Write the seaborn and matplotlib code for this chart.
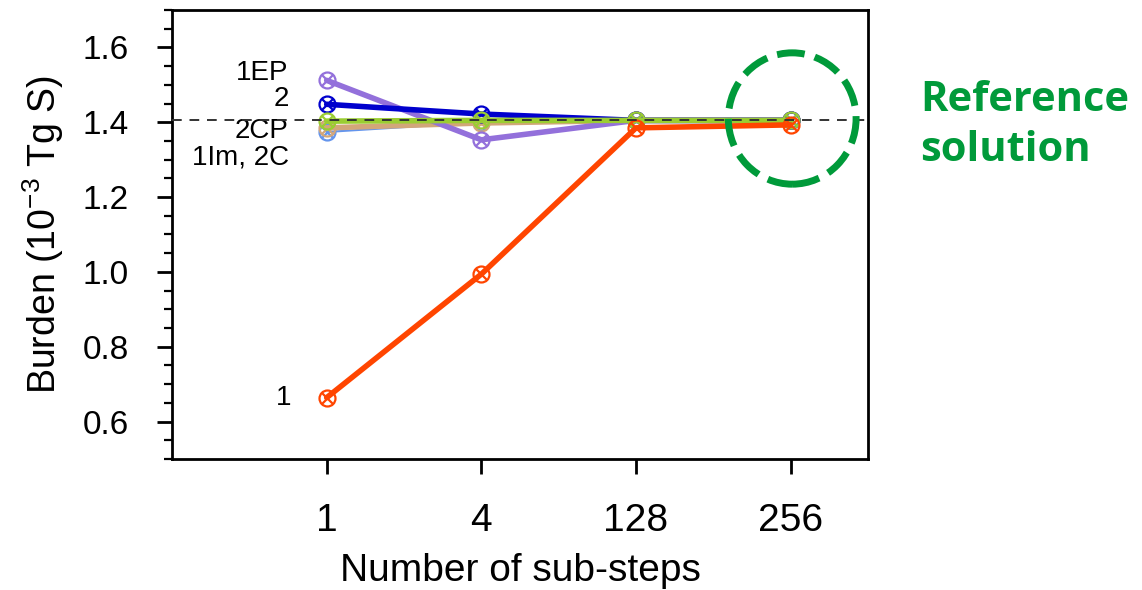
import numpy as np
import pandas as pd
import seaborn as sns
import matplotlib.pyplot as plt
from matplotlib.patches import Ellipse
from matplotlib.ticker import MultipleLocator

# ---- data ----
substeps = ["1", "4", "128", "256"]
s_1EP = [1.512, 1.353, 1.405, 1.405]
s_2 = [1.448, 1.422, 1.405, 1.405]
s_2CP = [1.403, 1.405, 1.405, 1.405]
s_1Im = [1.385, 1.398, 1.405, 1.405]
s_2C = [1.374, 1.400, 1.405, 1.405]
s_1 = [0.664, 0.994, 1.385, 1.393]
reference_value = 1.406

sns.set_style("ticks")
plt.rcParams['font.family'] = ['Liberation Sans', 'DejaVu Sans']
plt.rcParams['mathtext.fontset'] = 'custom'
plt.rcParams['mathtext.rm'] = 'Liberation Sans'
plt.rcParams['mathtext.it'] = 'Liberation Sans'
for k in ["text.color", "axes.labelcolor", "xtick.color", "ytick.color", "axes.edgecolor"]:
    plt.rcParams[k] = "black"

fig = plt.figure(figsize=(11.42, 5.90), dpi=100)
ax = fig.add_axes([172/1142, 1-459/590, (868-172)/1142, (459-10)/590])

pos = np.arange(len(substeps))
series = [
    ("2C", s_2C, "#6495ED", 1.5),
    ("1Im", s_1Im, "#D2A679", 4),
    ("1EP", s_1EP, "#9370DB", 4),
    ("2", s_2, "#0000CD", 4),
    ("2CP", s_2CP, "#9ACD32", 4),
    ("1", s_1, "#FF4500", 4),
]

ax.axhline(reference_value, color="#333333", ls=(0, (5, 4)), lw=1.4, zorder=15)

for i, (name, vals, col, lw) in enumerate(series):
    df = pd.DataFrame({"x": pos, "y": vals})
    sns.lineplot(data=df, x="x", y="y", ax=ax, color=col, lw=lw,
                 marker="o", markersize=11.5, markerfacecolor="none",
                 markeredgecolor=col, markeredgewidth=1.6, zorder=3 + i)
    sns.scatterplot(data=df, x="x", y="y", ax=ax, color=col, marker="x",
                    s=60, linewidth=1.6, zorder=3 + i)

# line labels
lab_kw = dict(ha="right", va="center", fontsize=20, color="black")
ax.text(-0.245, 1.531, "1EP", **lab_kw)
ax.text(-0.245, 1.462, "2", **lab_kw)
ax.text(-0.245, 1.377, "2CP", **lab_kw)
ax.text(-0.245, 1.307, "1Im, 2C", **lab_kw)
ax.text(-0.23, 0.664, "1", **lab_kw)

# reference solution highlight
ell = Ellipse((3.01, 1.41), width=0.826, height=0.351, fill=False,
              edgecolor="#009A3A", lw=5, ls=(0, (4, 1.5)), clip_on=False, zorder=20)
ax.add_patch(ell)
fig.text(920/1142, 1-80/590, "Reference\nsolution", ha="left", va="top",
         fontsize=30, fontweight="bold", color="#009A3A",
         family="Open Sans", linespacing=1.3)

ax.set_xlim(-1.0, 3.5)
ax.set_ylim(0.5, 1.7)
ax.set_xticks(pos)
ax.set_xticklabels(substeps)
ax.yaxis.set_minor_locator(MultipleLocator(0.05))
ax.set_yticks([0.6, 0.8, 1.0, 1.2, 1.4, 1.6])
ax.set_yticklabels(["0.6", "0.8", "1.0", "1.2", "1.4", "1.6"])

ax.tick_params(axis="y", which="major", direction="out", length=11, width=2,
               labelsize=24, pad=20)
ax.tick_params(axis="y", which="minor", direction="out", length=6, width=1.6)
ax.tick_params(axis="x", which="major", direction="out", length=11, width=2,
               labelsize=28, pad=21)
for sp in ax.spines.values():
    sp.set_linewidth(2)
    sp.set_visible(True)

ax.set_xlabel("Number of sub-steps", fontsize=28, labelpad=10)
ax.set_ylabel("Burden (10$^{-3}$ Tg S)", fontsize=27, labelpad=12)

fig.savefig("out.png", dpi=100)
